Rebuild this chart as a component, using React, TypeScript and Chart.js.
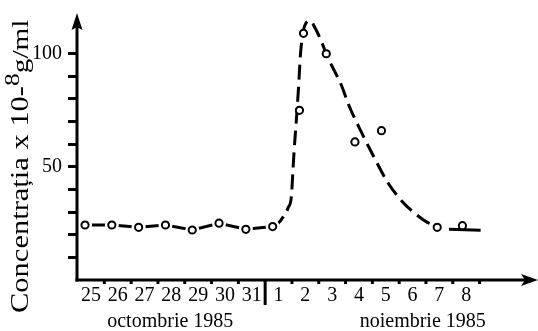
import { useEffect, useRef } from 'react';
import { Chart, registerables } from 'chart.js';

Chart.register(...registerables);

// Day labels along the time axis (25–31 October, 1–8 November 1985)
const dayLabels = ['25', '26', '27', '28', '29', '30', '31', '1', '2', '3', '4', '5', '6', '7', '8'];

// Measurements, x = days counted from 25 October
const octX = [0, 1, 2, 3, 4, 5, 6, 7];
const octConc = [24.3, 24.3, 23.3, 24.3, 22.1, 25.1, 22.4, 23.6];

const novX = [8.0, 8.15, 9.0, 10.07, 11.06, 13.14, 14.08];
const novConc = [75, 109, 100, 61, 66, 23.3, 24];

// Dashed trend curve through the November episode
const fitX = [7.0, 7.2, 7.4, 7.58, 7.7, 7.75, 7.8, 7.88, 7.96, 8.04, 8.12, 8.24, 8.4, 8.6, 8.85, 9.05, 9.3, 9.55, 9.85, 10.2, 10.75, 11.3, 11.85, 12.3, 12.7, 13.1];
const fitConc = [23.6, 25, 28, 32, 37, 47, 57, 70, 84, 100, 108.5, 113.5, 114.5, 111, 104.5, 98.5, 92.5, 86.5, 77, 68, 55, 43, 34.5, 29.5, 26, 23.5];

// Short solid baseline after the episode
const tailX = [13.58, 14.76];
const tailConc = [22.4, 22.0];

// Y axis tick marks and the labelled ones
const yTickValues = [10, 20, 30, 40, 50, 60, 70, 80, 90, 100];
const yLabelValues = [50, 100];

const monthLabels = ['octombrie 1985', 'noiembrie 1985'];
const monthCenters = [3.18, 12.6];

const SERIF = '"Liberation Serif", "Times New Roman", serif';
const INK = '#000';

const LABEL_SHIFT = 0.22; // day label sits inside its day
const BOUNDARY_SHIFT = 0.72; // tick marks between days
const MONTH_BREAK = 6; // boundary after 31 October

const pts = (xs: number[], ys: number[]) => xs.map((x, i) => ({ x, y: ys[i] }));

const axesPlugin = {
  id: 'handAxes',
  afterDraw(chart: any) {
    const { ctx, chartArea } = chart;
    const xs = chart.scales.x;
    const left = chartArea.left;
    const bottom = chartArea.bottom;
    ctx.save();
    ctx.fillStyle = INK;
    ctx.strokeStyle = INK;
    ctx.lineWidth = 3;
    ctx.lineCap = 'butt';

    // y axis with arrow
    ctx.beginPath();
    ctx.moveTo(left, bottom + 1.5);
    ctx.lineTo(left, chartArea.top + 14);
    ctx.stroke();
    ctx.beginPath();
    ctx.moveTo(left, chartArea.top);
    ctx.lineTo(left + 5.5, chartArea.top + 17);
    ctx.lineTo(left, chartArea.top + 14);
    ctx.lineTo(left - 5.5, chartArea.top + 17);
    ctx.closePath();
    ctx.fill();

    // x axis with arrow
    const right = chartArea.right;
    ctx.beginPath();
    ctx.moveTo(left - 1.5, bottom);
    ctx.lineTo(right - 13, bottom);
    ctx.stroke();
    ctx.beginPath();
    ctx.moveTo(right, bottom);
    ctx.lineTo(right - 17, bottom - 6);
    ctx.lineTo(right - 13, bottom);
    ctx.lineTo(right - 17, bottom + 6);
    ctx.closePath();
    ctx.fill();

    // tick marks between days
    dayLabels.forEach((_, i) => {
      const px = xs.getPixelForValue(i + BOUNDARY_SHIFT);
      if (i === MONTH_BREAK) {
        ctx.fillRect(px - 1.5, bottom, 3, 25);
      } else {
        ctx.fillRect(px - 1.5, bottom, 3, 4);
      }
    });

    // month names
    ctx.font = `20px ${SERIF}`;
    ctx.textAlign = 'center';
    ctx.textBaseline = 'middle';
    monthLabels.forEach((m, i) => {
      ctx.fillText(m, xs.getPixelForValue(monthCenters[i]), bottom + 42);
    });

    // rotated y title with superscript exponent
    ctx.translate(28, 313);
    ctx.rotate(-Math.PI / 2);
    ctx.scale(1.22, 1);
    ctx.textAlign = 'left';
    ctx.textBaseline = 'alphabetic';
    ctx.font = `25px ${SERIF}`;
    const main = 'Concentrația x 10-';
    ctx.fillText(main, 0, 0);
    let cx = ctx.measureText(main).width;
    ctx.font = `21px ${SERIF}`;
    ctx.fillText('8', cx, -9);
    cx += ctx.measureText('8').width;
    ctx.font = `24px ${SERIF}`;
    ctx.fillText('g/ml', cx, 0);
    ctx.restore();
  },
};

export default function App() {
  const ref = useRef<HTMLCanvasElement | null>(null);

  useEffect(() => {
    if (!ref.current) return;
    const chart = new Chart(ref.current, {
      type: 'scatter',
      data: {
        datasets: [
          {
            label: 'octombrie',
            data: pts(octX, octConc),
            showLine: true,
            borderColor: INK,
            borderWidth: 3,
            pointRadius: 0,
            order: 4,
          },
          {
            label: 'tendinta',
            data: pts(fitX, fitConc),
            showLine: true,
            borderColor: INK,
            borderWidth: 3,
            borderDash: [15, 7],
            cubicInterpolationMode: 'monotone',
            pointRadius: 0,
            order: 4,
          },
          {
            label: 'baza',
            data: pts(tailX, tailConc),
            showLine: true,
            borderColor: INK,
            borderWidth: 3,
            pointRadius: 0,
            order: 4,
          },
          {
            label: 'halo',
            data: [...pts(octX, octConc), ...pts(novX, novConc)],
            showLine: false,
            pointRadius: [7, 7, 7, 7, 7, 7, 7, 7, 0, 0, 0, 0, 0, 7, 0],
            pointBackgroundColor: '#fff',
            pointBorderWidth: 0,
            pointBorderColor: '#fff',
            order: 2,
          },
          {
            label: 'masuratori',
            data: [...pts(octX, octConc), ...pts(novX, novConc)],
            showLine: false,
            pointRadius: 3.6,
            pointBackgroundColor: '#fff',
            pointBorderColor: INK,
            pointBorderWidth: 2,
            order: 1,
          },
        ],
      },
      options: {
        animation: false,
        responsive: false,
        devicePixelRatio: 1,
        layout: { autoPadding: false, padding: { top: 13, right: 0, left: 0, bottom: 0 } },
        plugins: {
          legend: { display: false },
          tooltip: { enabled: false },
        },
        scales: {
          x: {
            type: 'linear',
            min: -0.3,
            max: 16.9,
            afterBuildTicks: (scale: any) => {
              scale.ticks = dayLabels.map((_, i) => ({ value: i + LABEL_SHIFT }));
            },
            afterFit: (scale: any) => {
              scale.height = 51;
              scale.paddingLeft = 0;
              scale.paddingRight = 0;
            },
            ticks: {
              autoSkip: false,
              maxRotation: 0,
              padding: 4,
              color: INK,
              font: { family: SERIF, size: 20 },
              callback: (_v: any, i: number) => dayLabels[i],
            },
            grid: { display: false, drawTicks: false },
            border: { display: false },
          },
          y: {
            type: 'linear',
            min: 0,
            max: 118,
            afterBuildTicks: (scale: any) => {
              scale.ticks = yTickValues.map((v) => ({ value: v }));
            },
            afterFit: (scale: any) => {
              scale.width = 77;
              scale.paddingTop = 0;
              scale.paddingBottom = 0;
            },
            ticks: {
              padding: 6,
              color: INK,
              font: { family: SERIF, size: 20 },
              callback: (v: any) => (yLabelValues.includes(Number(v)) ? String(v) : ''),
            },
            grid: {
              display: true,
              drawOnChartArea: false,
              drawTicks: true,
              tickLength: 9,
              tickWidth: 3,
              color: INK,
            },
            border: { display: false },
          },
        },
      },
      plugins: [axesPlugin],
    });
    return () => chart.destroy();
  }, []);

  return (
    <div style={{ position: 'fixed', left: 0, top: 0, width: 538, height: 331, background: '#fff' }}>
      <canvas ref={ref} width={538} height={331} style={{ display: 'block' }} />
    </div>
  );
}
